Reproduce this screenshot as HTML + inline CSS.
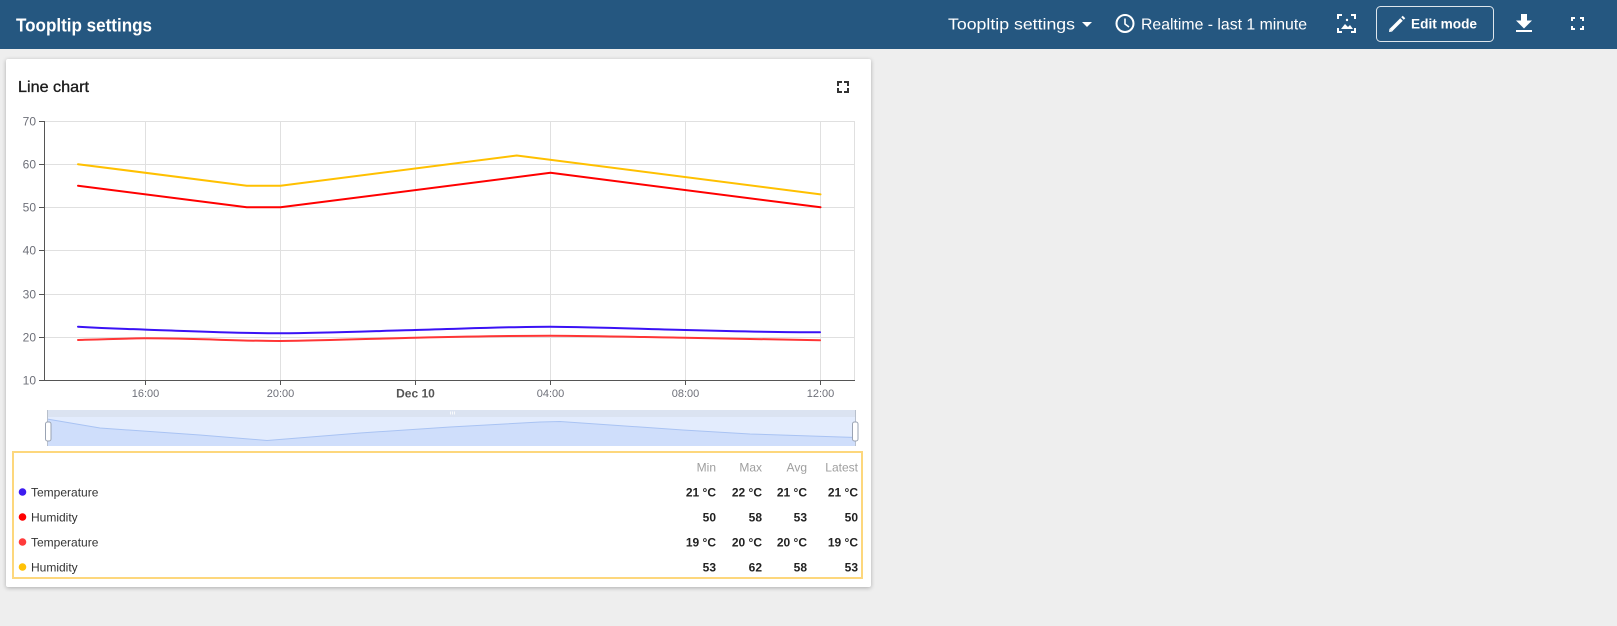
<!DOCTYPE html>
<html><head><meta charset="utf-8">
<style>
html,body{margin:0;padding:0;}
body{width:1617px;height:626px;background:#eeeeee;position:relative;overflow:hidden;font-family:"Liberation Sans",sans-serif;}
.hdr{position:absolute;left:0;top:0;width:1617px;height:49px;background:#255780;}
.card{position:absolute;left:6px;top:59px;width:865px;height:528px;background:#fff;box-shadow:0 1px 4px rgba(0,0,0,0.28);border-radius:2px;}
svg{position:absolute;left:0;top:0;}
</style></head>
<body>
<div class="hdr"></div>
<div class="card"></div>
<svg width="1617" height="626" viewBox="0 0 1617 626" xmlns="http://www.w3.org/2000/svg" font-family="Liberation Sans, sans-serif">
  <!-- Header -->
  <text x="16" y="31.5" font-size="18" font-weight="bold" fill="#fff" textLength="136" lengthAdjust="spacingAndGlyphs">Toopltip settings</text>
  <text x="948" y="29.5" font-size="16" fill="#fff" textLength="127" lengthAdjust="spacingAndGlyphs">Toopltip settings</text>
  <polygon points="1082,22 1092,22 1087,27" fill="#fff"/>
  <circle cx="1125" cy="23.5" r="8.5" fill="none" stroke="#fff" stroke-width="2"/>
  <polyline points="1125,18.5 1125,24 1129,27" fill="none" stroke="#fff" stroke-width="1.6"/>
  <text x="1141" y="29.5" font-size="16" fill="#fff" textLength="166" lengthAdjust="spacingAndGlyphs">Realtime - last 1 minute</text>
  <!-- image icon -->
  <g fill="none" stroke="#fff" stroke-width="2">
    <path d="M1338,19 V15 H1342 M1351,15 H1355 V19 M1355,28 V32 H1351 M1342,32 H1338 V28"/>
  </g>
  <polygon points="1341,29 1345,24 1348,27 1350,25 1353,29" fill="#fff"/>
  <circle cx="1347" cy="20" r="1.2" fill="#fff"/>
  <!-- Edit mode button -->
  <rect x="1376.5" y="6.5" width="117" height="35" rx="4" fill="none" stroke="#fff" stroke-opacity="0.85"/>
  <line x1="1391" y1="30" x2="1401.5" y2="19.5" stroke="#fff" stroke-width="3.6"/>
  <polygon points="1389,32 1389.5,28.5 1392.5,31.5" fill="#fff"/>
  <line x1="1402.5" y1="18.5" x2="1404" y2="17" stroke="#fff" stroke-width="3.6"/>
  <text x="1411" y="28.5" font-size="14" font-weight="bold" fill="#fff" textLength="66" lengthAdjust="spacingAndGlyphs">Edit mode</text>
  <!-- download -->
  <rect x="1521" y="14" width="6" height="7" fill="#fff"/>
  <polygon points="1516,20.5 1532,20.5 1524,28.5" fill="#fff"/>
  <rect x="1516" y="30" width="16" height="2" fill="#fff"/>
  <!-- fullscreen -->
  <path d="M1572,21 V18 H1575 M1580,18 H1583 V21 M1583,26 V29 H1580 M1575,29 H1572 V26" fill="none" stroke="#fff" stroke-width="2"/>

  <!-- Card title -->
  <text x="18" y="92" font-size="16" fill="#1c1c1c" stroke="#1c1c1c" stroke-width="0.35" textLength="71" lengthAdjust="spacingAndGlyphs">Line chart</text>
  <path d="M838,86 V82 H842 M844,82 H848 V86 M848,88 V92 H844 M842,92 H838 V88" fill="none" stroke="#333" stroke-width="2"/>

  <!-- Grid -->
  <g stroke="#e0e0e0" stroke-width="1">
    <line x1="44" y1="121.5" x2="854" y2="121.5"/>
    <line x1="44" y1="164.5" x2="854" y2="164.5"/>
    <line x1="44" y1="207.5" x2="854" y2="207.5"/>
    <line x1="44" y1="250.5" x2="854" y2="250.5"/>
    <line x1="44" y1="294.5" x2="854" y2="294.5"/>
    <line x1="44" y1="337.5" x2="854" y2="337.5"/>
    <line x1="145.5" y1="121" x2="145.5" y2="380"/>
    <line x1="280.5" y1="121" x2="280.5" y2="380"/>
    <line x1="415.5" y1="121" x2="415.5" y2="380"/>
    <line x1="550.5" y1="121" x2="550.5" y2="380"/>
    <line x1="685.5" y1="121" x2="685.5" y2="380"/>
    <line x1="820.5" y1="121" x2="820.5" y2="380"/>
    <line x1="854.5" y1="121" x2="854.5" y2="380"/>
  </g>
  <!-- Axes -->
  <g stroke="#555" stroke-width="1">
    <line x1="44.5" y1="121" x2="44.5" y2="380.5"/>
    <line x1="44" y1="380.5" x2="855" y2="380.5"/>
    <line x1="39" y1="121.5" x2="44" y2="121.5"/>
    <line x1="39" y1="164.5" x2="44" y2="164.5"/>
    <line x1="39" y1="207.5" x2="44" y2="207.5"/>
    <line x1="39" y1="250.5" x2="44" y2="250.5"/>
    <line x1="39" y1="294.5" x2="44" y2="294.5"/>
    <line x1="39" y1="337.5" x2="44" y2="337.5"/>
    <line x1="39" y1="380.5" x2="44" y2="380.5"/>
    <line x1="145.5" y1="380" x2="145.5" y2="385"/>
    <line x1="280.5" y1="380" x2="280.5" y2="385"/>
    <line x1="415.5" y1="380" x2="415.5" y2="385"/>
    <line x1="550.5" y1="380" x2="550.5" y2="385"/>
    <line x1="685.5" y1="380" x2="685.5" y2="385"/>
    <line x1="820.5" y1="380" x2="820.5" y2="385"/>
  </g>
  <g font-size="12" fill="#6e7079" text-anchor="end">
    <text x="36" y="125.5">70</text>
    <text x="36" y="168.5">60</text>
    <text x="36" y="211.5">50</text>
    <text x="36" y="254.5">40</text>
    <text x="36" y="298.5">30</text>
    <text x="36" y="341.5">20</text>
    <text x="36" y="384.5">10</text>
  </g>
  <g font-size="11" fill="#6e7079" text-anchor="middle">
    <text x="145.5" y="397">16:00</text>
    <text x="280.5" y="397">20:00</text>
    <text x="415.5" y="397.5" font-size="12" font-weight="bold" fill="#555">Dec 10</text>
    <text x="550.5" y="397">04:00</text>
    <text x="685.5" y="397">08:00</text>
    <text x="820.5" y="397">12:00</text>
  </g>

  <!-- Series -->
  <g fill="none" stroke-width="2" stroke-linejoin="round" stroke-linecap="round">
    <polyline stroke="#ffc000" points="78,164.2 246.75,185.7 280.5,185.7 516.75,155.5 820.5,194.4"/>
    <polyline stroke="#ff0000" points="78,185.7 246.75,207.3 280.5,207.3 550.5,172.8 820.5,207.3"/>
    <path stroke="#3a12f5" d="M78,326.7 C110,328.5 130,329 145,329.6 C200,331.5 240,333.3 280,333.3 C330,333 380,330.8 415,330 C470,328.5 510,326.7 550,326.7 C600,327 640,329 685,330 C740,331.5 790,332.3 820,332.3"/>
    <path stroke="#ff3535" d="M78,340 C100,339.3 120,338.6 145,338.3 C200,338.5 240,341 280,341 C330,340.5 380,338.4 415,337.7 C470,336.5 510,335.7 550,335.7 C600,336 640,337 685,337.7 C740,338.8 790,339.8 820,340.3"/>
  </g>

  <!-- Navigator -->
  <rect x="47" y="410" width="809" height="7" fill="#dbe3f1"/>
  <rect x="47" y="417" width="809" height="29" fill="#e3ecfd"/>
  <polygon fill="#cfdefb" points="47,419 100,428 200,435 267,440.5 360,433 450,427 540,422 560,421.5 683,430 750,434 856,437.5 856,446 47,446"/>
  <polyline fill="none" stroke="#a9c3f3" stroke-width="1" points="47,419 100,428 200,435 267,440.5 360,433 450,427 540,422 560,421.5 683,430 750,434 856,437.5"/>
  <line x1="47.5" y1="410" x2="47.5" y2="446" stroke="#b8c0cc"/>
  <line x1="855.5" y1="410" x2="855.5" y2="446" stroke="#b8c0cc"/>
  <rect x="45.5" y="422" width="5.5" height="19" rx="2" fill="#fff" stroke="#9aa3b3"/>
  <rect x="852.5" y="422" width="5.5" height="19" rx="2" fill="#fff" stroke="#9aa3b3"/>
  <g stroke="#fff" stroke-width="0.8">
    <line x1="450.5" y1="411.5" x2="450.5" y2="414.5"/>
    <line x1="452.5" y1="411.5" x2="452.5" y2="414.5"/>
    <line x1="454.5" y1="411.5" x2="454.5" y2="414.5"/>
  </g>

  <!-- Legend -->
  <rect x="13" y="452" width="849" height="126" fill="none" stroke="#fdd77c" stroke-width="2"/>
  <g font-size="12" fill="#9e9e9e" text-anchor="end">
    <text x="716" y="471.3">Min</text>
    <text x="762" y="471.3">Max</text>
    <text x="807" y="471.3">Avg</text>
    <text x="858" y="471.3">Latest</text>
  </g>
  <circle cx="22.5" cy="492" r="3.8" fill="#3d1cf0"/>
  <circle cx="22.5" cy="517" r="3.8" fill="#ff0000"/>
  <circle cx="22.5" cy="542" r="3.8" fill="#ff3b3b"/>
  <circle cx="22.5" cy="567" r="3.8" fill="#ffc107"/>
  <g font-size="12" fill="#333">
    <text x="31" y="496.3">Temperature</text>
    <text x="31" y="521.3">Humidity</text>
    <text x="31" y="546.3">Temperature</text>
    <text x="31" y="571.3">Humidity</text>
  </g>
  <g font-size="12" font-weight="bold" fill="#222" text-anchor="end">
    <text x="716" y="496.3">21 °C</text>
    <text x="762" y="496.3">22 °C</text>
    <text x="807" y="496.3">21 °C</text>
    <text x="858" y="496.3">21 °C</text>
    <text x="716" y="521.3">50</text>
    <text x="762" y="521.3">58</text>
    <text x="807" y="521.3">53</text>
    <text x="858" y="521.3">50</text>
    <text x="716" y="546.3">19 °C</text>
    <text x="762" y="546.3">20 °C</text>
    <text x="807" y="546.3">20 °C</text>
    <text x="858" y="546.3">19 °C</text>
    <text x="716" y="571.3">53</text>
    <text x="762" y="571.3">62</text>
    <text x="807" y="571.3">58</text>
    <text x="858" y="571.3">53</text>
  </g>
</svg>
</body></html>
